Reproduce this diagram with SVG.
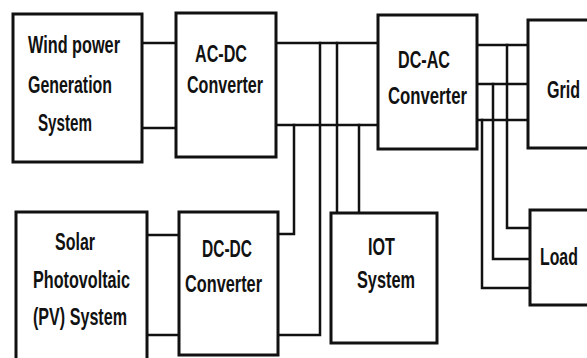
<svg xmlns="http://www.w3.org/2000/svg" width="587" height="358" viewBox="0 0 587 358">
<style>
.box{fill:#fff;stroke:#111;stroke-width:3}
.ln{fill:none;stroke:#111;stroke-width:2.5;stroke-linejoin:miter;stroke-linecap:square}
.t{font-family:"Liberation Sans Narrow","Liberation Sans",Arial,sans-serif;font-weight:bold;font-size:24px;fill:#111}
.w{font-family:"Liberation Sans",Arial,sans-serif;font-weight:bold;font-size:24px;fill:#111}
</style>
<rect width="587" height="358" fill="#fff"/>
<g id="connectors">
<path class="ln" d="M142,43H176 M142,128H176"/>
<path class="ln" d="M276,43H378 M276,125H378"/>
<path class="ln" d="M320,43V335H278"/>
<path class="ln" d="M337,43V213"/>
<path class="ln" d="M294,125V234H278"/>
<path class="ln" d="M359,125V213"/>
<path class="ln" d="M147,235H179 M147,335H179"/>
<path class="ln" d="M477,45H528 M477,84H528 M477,120H528"/>
<path class="ln" d="M507,45V228H530"/>
<path class="ln" d="M493,84V259H530"/>
<path class="ln" d="M482,120V288H530"/>
</g>
<g id="wind">
<rect class="box" x="13" y="14" width="129" height="148"/>
<text class="t" x="28" y="53" textLength="92" lengthAdjust="spacingAndGlyphs">Wind power</text>
<text class="t" x="28" y="93" textLength="84" lengthAdjust="spacingAndGlyphs">Generation</text>
<text class="t" x="38" y="131" textLength="54" lengthAdjust="spacingAndGlyphs">System</text>
</g>
<g id="acdc">
<rect class="box" x="176" y="13" width="100" height="144"/>
<text class="t" x="195" y="62" textLength="52" lengthAdjust="spacingAndGlyphs">AC-DC</text>
<text class="t" x="187" y="93" textLength="76" lengthAdjust="spacingAndGlyphs">Converter</text>
</g>
<g id="dcac">
<rect class="box" x="378" y="15" width="99" height="134"/>
<text class="t" x="398" y="68" textLength="52" lengthAdjust="spacingAndGlyphs">DC-AC</text>
<text class="t" x="388" y="104" textLength="79" lengthAdjust="spacingAndGlyphs">Converter</text>
</g>
<g id="grid">
<rect class="box" x="528" y="20" width="80" height="128"/>
<text class="w" transform="translate(547,98) scale(0.67,1)">Grid</text>
</g>
<g id="solar">
<rect class="box" x="16" y="212" width="131" height="160"/>
<text class="t" x="55" y="250" textLength="40" lengthAdjust="spacingAndGlyphs">Solar</text>
<text class="t" x="33" y="288" textLength="97" lengthAdjust="spacingAndGlyphs">Photovoltaic</text>
<text class="t" x="33" y="325" textLength="94" lengthAdjust="spacingAndGlyphs">(PV) System</text>
</g>
<g id="dcdc">
<rect class="box" x="179" y="212" width="99" height="143"/>
<text class="t" x="202" y="257" textLength="50" lengthAdjust="spacingAndGlyphs">DC-DC</text>
<text class="t" x="185" y="292" textLength="77" lengthAdjust="spacingAndGlyphs">Converter</text>
</g>
<g id="iot">
<rect class="box" x="331" y="213" width="106" height="130"/>
<text class="t" x="368" y="255" textLength="27" lengthAdjust="spacingAndGlyphs">IOT</text>
<text class="t" x="357" y="288" textLength="58" lengthAdjust="spacingAndGlyphs">System</text>
</g>
<g id="load">
<rect class="box" x="530" y="210" width="80" height="95"/>
<text class="w" transform="translate(540,265) scale(0.66,1)">Load</text>
</g>
</svg>
